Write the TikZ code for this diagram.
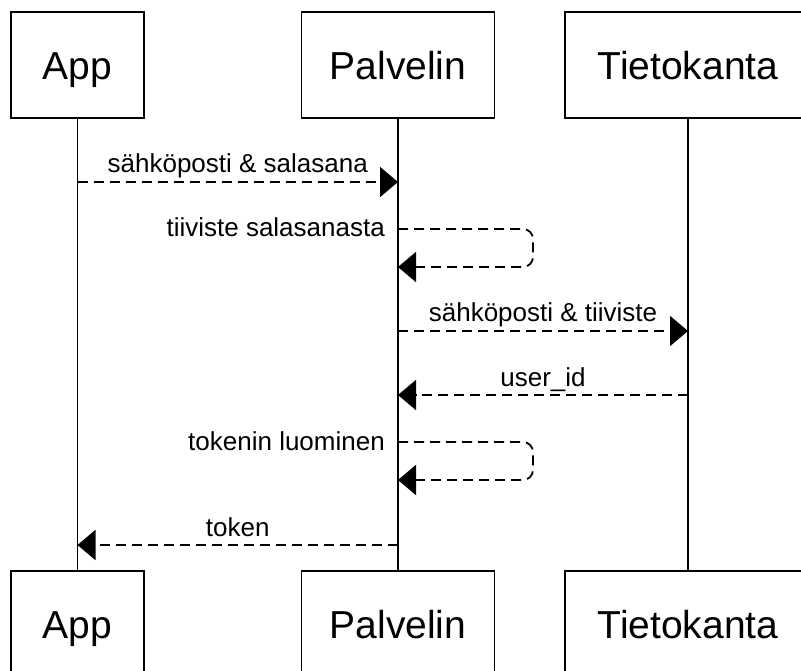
\documentclass[tikz,border=0pt]{standalone}
\usepackage{fontspec}
\setmainfont{Liberation Sans}
\usetikzlibrary{arrows.meta, positioning}

\begin{document}
\begin{tikzpicture}[
    x=1pt, y=-1pt,
    actor/.style={rectangle, draw, line width=1.8pt, minimum height=106pt, text height=30pt, text depth=0pt, font=\fontsize{39}{44}\selectfont},
    life/.style={line width=1.8pt},
    msg/.style={line width=1.8pt, dash pattern=on 10pt off 6pt, -{Triangle[length=18pt, width=30pt]}},
    lbl/.style={anchor=base, inner sep=0pt, yshift=9pt, font=\fontsize{26}{30}\selectfont},
    selflbl/.style={anchor=base east, inner sep=0pt, xshift=-13pt, yshift=-8pt, font=\fontsize{26}{30}\selectfont}
]
    \useasboundingbox (0,0) rectangle (801,671);

    % participants
    \node (app) [actor, minimum width=133pt] at (77.5,65) {App};
    \node (palv) [actor, minimum width=193pt] at (398,65) {Palvelin};
    \node (tiet) [actor, minimum width=246pt] at (688,65) {Tietokanta};
    \node (app2) [actor, minimum width=133pt, below=451pt of app] {App};
    \node (palv2) [actor, minimum width=193pt, below=451pt of palv] {Palvelin};
    \node (tiet2) [actor, minimum width=246pt, below=451pt of tiet] {Tietokanta};

    \draw[life] (app) -- (app2);
    \draw[life] (palv) -- (palv2);
    \draw[life] (tiet) -- (tiet2);

    % message ends
    \coordinate (m1a) at (app |- 0,182);
    \coordinate (m1b) at (palv |- 0,182);
    \coordinate (s1a) at (palv |- 0,229);
    \coordinate (s1b) at (palv |- 0,267);
    \coordinate (m3a) at (palv |- 0,331);
    \coordinate (m3b) at (tiet |- 0,331);
    \coordinate (m4a) at (tiet |- 0,395);
    \coordinate (m4b) at (palv |- 0,395);
    \coordinate (s2a) at (palv |- 0,442);
    \coordinate (s2b) at (palv |- 0,480);
    \coordinate (m6a) at (palv |- 0,545);
    \coordinate (m6b) at (app |- 0,545);

    \draw[msg] (m1a) -- node[lbl] {sähköposti \& salasana} (m1b);
    \draw[msg, rounded corners=10pt] (s1a) -- ++(135,0) |- (s1b);
    \node (s1l) [selflbl] at (s1a) {tiiviste salasanasta};
    \draw[msg] (m3a) -- node[lbl] {sähköposti \& tiiviste} (m3b);
    \draw[msg] (m4a) -- node[lbl] {user\_id} (m4b);
    \draw[msg, rounded corners=10pt] (s2a) -- ++(135,0) |- (s2b);
    \node (s2l) [selflbl] at (s2a) {tokenin luominen};
    \draw[msg] (m6a) -- node[lbl] {token} (m6b);
\end{tikzpicture}
\end{document}
